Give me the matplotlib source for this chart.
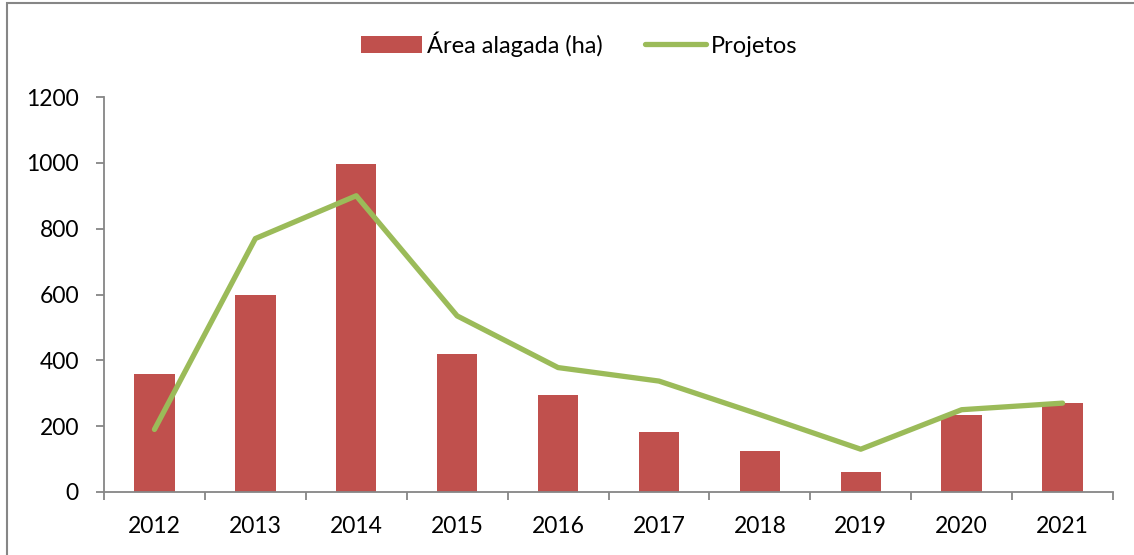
import matplotlib.pyplot as plt
import numpy as np
from matplotlib.patches import Rectangle

anos = ['2012', '2013', '2014', '2015', '2016', '2017', '2018', '2019', '2020', '2021']
area_alagada = [358, 600, 995, 420, 295, 182, 126, 62, 235, 270]
projetos = [190, 770, 900, 535, 378, 337, 235, 130, 250, 270]

plt.rcParams['font.family'] = ['Lato', 'DejaVu Sans']

fig = plt.figure(figsize=(11.34, 5.55), dpi=100)
ax = fig.add_axes([104 / 1134, 1 - 492 / 555, (1113 - 104) / 1134, (492 - 97) / 555])

# moldura do grafico
fig.patches.append(Rectangle((7 / 1134, -0.1), 1.1, 1 - 3 / 555 + 0.1, transform=fig.transFigure,
                             fill=False, edgecolor='#868686', linewidth=1.5))

x = np.arange(len(anos))
barras = ax.bar(x, area_alagada, width=0.4, color='#C0504D', label='Área alagada (ha)', zorder=2)
linha, = ax.plot(x, projetos, color='#9BBB59', linewidth=3.8, solid_capstyle='round',
                 label='Projetos', zorder=3)

ax.set_xlim(-0.5, len(anos) - 0.5)
ax.set_ylim(0, 1200)
ax.set_yticks(range(0, 1201, 200))
ax.set_xticks(x)
ax.set_xticklabels(anos)
ax.set_xticks(np.arange(-0.5, len(anos), 1), minor=True)

for s in ['top', 'right']:
    ax.spines[s].set_visible(False)
for s in ['left', 'bottom']:
    ax.spines[s].set_color('#868686')
    ax.spines[s].set_linewidth(1.3)

ax.tick_params(axis='x', which='major', length=0, pad=17, labelsize=16.5)
ax.tick_params(axis='x', which='minor', length=6, width=1.3, color='#868686', direction='out')
ax.tick_params(axis='y', length=6, width=1.3, color='#868686', pad=12, labelsize=16.5)

ax.legend([barras, linha], ['Área alagada (ha)', 'Projetos'], loc='center',
          bbox_to_anchor=(579 / 1134, 1 - 44 / 555), bbox_transform=fig.transFigure,
          ncol=2, frameon=False, fontsize=17, handlelength=2.6, handletextpad=0.2,
          columnspacing=1.8)

fig.savefig('out.png', dpi=100)
